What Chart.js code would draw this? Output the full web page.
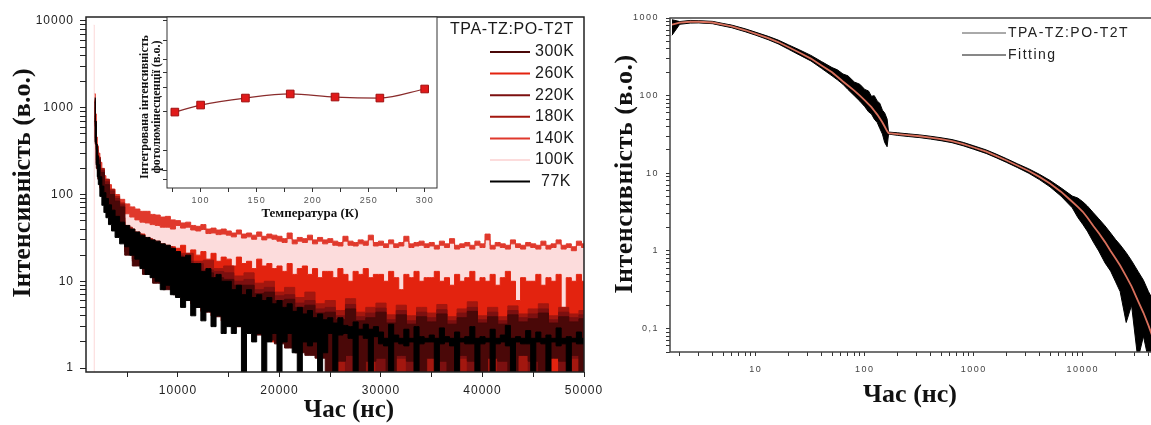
<!DOCTYPE html>
<html><head><meta charset="utf-8">
<script src="https://cdn.jsdelivr.net/npm/chart.js@4/dist/chart.umd.min.js"></script>
<style>
html,body{margin:0;padding:0;background:#fff;}
body{position:relative;width:1151px;height:425px;overflow:hidden;}
canvas{position:absolute;top:0;}
#cL{left:0}#cR{left:600px}#cI{left:120px}
</style></head><body>
<canvas id="cL" width="615" height="425"></canvas>
<canvas id="cR" width="575" height="425"></canvas>
<canvas id="cI" width="330" height="230"></canvas>
<script>
// ---------- LEFT PANEL DATA (time, ns) ----------
const tF = [
1700,1800,1900,2000,2100,2200,2400,2600,2800,3000,3300,3600,4000,4500,
5000,5500,6000,6500,7000,7500,8000,8500,9000,9500,
10000,10500,11000,11500,12000,12500,13000,13500,14000,14500,
15000,15500,16000,16500,17000,17500,18000,18500,19000,19500,
20000,20500,21000,21500,22000,22500,23000,23500,24000,24500,
25000,25500,26000,26500,27000,27500,28000,28500,29000,29500,
30000,30500,31000,31500,32000,32500,33000,33500,34000,34500,
35000,35500,36000,36500,37000,37500,38000,38500,39000,39500,
40000,40500,41000,41500,42000,42500,43000,43500,44000,44500,
45000,45500,46000,46500,47000,47500,48000,48500,49000,49500,
50000];
const tC = [
1700,1800,1900,2000,2200,2500,3000,3500,4000,4500,
5000,6000,7000,8000,9000,10000,11000,12000,13000,14000,
15000,16000,17000,18000,19000,20000,21000,22000,23000,24000,
25000,26000,27000,28000,29000,30000,31000,32000,33000,34000,
35000,36000,37000,38000,39000,40000,41000,42000,43000,44000,
45000,46000,47000,48000,49000,50000];

// upper / lower edges of each noisy decay (intensity, a.u.)
const k140Hi = [null,1450,850,460,360,300,235,185,165,150,130,115,100,88,
78,72,68,64,64,59,58,55,56,51,
50,47,48,44,43,45,40,41,39,40,
38,36,39,35,36,34,37,33,35,34,
33,31,36,30,32,31,34,30,32,30,
31,29,28,33,29,28,30,29,34,28,
29,27,30,27,28,33,27,28,29,27,
28,26,29,27,31,26,27,28,26,29,
27,35,26,28,27,26,30,27,26,28,
27,26,29,26,27,30,26,27,25,29,
27];
const k140Lo = [null,1000,600,330,270,230,180,150,132,118,104,92,80,70,
60,55,51,48,47,45,44,42,42,40,
44,41,42,39,38,39.5,35.5,36,34.5,35,
34,32.5,35,31.5,32.5,30.5,33,30,31.5,30.5,
29,28,31,27,29,28,30,27,29,27,
28,26,25.5,29,26,25.5,27,26,30,25.5,
26,24.5,27,24.5,25.5,29,24.5,25.5,26,24.5,
25.5,23.5,26,24.5,27.5,23.5,24.5,25.5,23.5,26,
24.5,30,23.5,25.5,24.5,23.5,27,24.5,23.5,25.5,
24.5,23.5,26,23.5,24.5,27,23.5,24.5,22.5,26,
24.5];
const k100Hi = [9000,1300,750,400,320,265,205,165,148,132,115,102,89,78,
66,61,57,53,52,49,48,46,46,43,
47,44,45,41.5,40.5,42,38,38.5,37,37.5,
36,34,37,33,34,32,35,31.5,33,32,
31,29.5,34,28.5,30.5,29.5,32,28.5,30.5,28.5,
29.5,27.5,26.5,31,27.5,26.5,28.5,27.5,32,26.5,
27.5,25.5,28.5,25.5,26.5,31,25.5,26.5,27.5,25.5,
26.5,24.5,27.5,25.5,29.5,24.5,25.5,26.5,24.5,27.5,
25.5,33,24.5,26.5,25.5,24.5,28.5,25.5,24.5,26.5,
25.5,24.5,27.5,24.5,25.5,28.5,24.5,25.5,23.5,27.5,
25.5];
const k100Lo = [0.8,700,400,230,180,150,115,95,82,72,60,52,44,36,
30,27,24,22,20,19,18,17,16,15,
14,13.5,13,12.5,12,11.5,11,10.5,10,10,
9.5,9.5,9,9,8.5,8.5,8,8,8,7.5,
7.5,7.5,7,7,7,7,6.5,6.5,6.5,6.5,
6.5,6,6,6,6,6,6,6,6,5.5,
5.5,5.5,5.5,5.5,5.5,5.5,5.5,5.5,5.5,5.5,
5.5,5.5,5.5,5.5,5,5,5,5,5,5,
5,5,5,5,5,5,5,5,5,5,
5,5,5,5,5,5,5,5,5,5,
5];
const k260Hi = [null,1200,700,380,290,240,180,140,120,105,88,76,64,54,
44,40,37,35,32,30,29,27,26,25,
24,26,21,23,20,22,18,21,17,19,
18,15,19,16,17,14,18,15,16,14,
15,13,16,12,14,15,12,14,11,13,
13,11,14,12,10,13,12,14,11,12,
12,10,13,11,8,12,11,13,10,11,
11,13,10,11,9,12,10,11,13,10,
11,10,12,9,11,13,10,6,11,10,
10,12,9,11,10,12,5,11,10,12,
10];
const k260Lo = [null,800,450,250,190,160,120,95,80,70,58,50,42,35,
28,24,20,17,14,12,11,10,9,8,
7,6.5,6,5.5,5,4.5,4.5,4,4,3.5,
3.5,3,3,3,2.8,2.6,2.5,2.4,2.2,2,
2,2,1.8,1.8,1.7,1.6,1.6,1.5,1.5,1.4,
1.4,1.3,1.3,1.2,1.2,1.1,1,0.8,0.8,0.8,
0.8,0.8,0.8,0.8,0.8,0.8,0.8,0.8,0.8,0.8,
0.8,0.8,0.8,0.8,0.8,0.8,0.8,0.8,0.8,0.8,
0.8,0.8,0.8,0.8,0.8,0.8,0.8,0.8,0.8,0.8,
0.8,0.8,0.8,0.8,0.8,0.8,0.8,0.8,0.8,0.8,
0.8];
const k77Hi = [null,1300,700,380,280,220,160,125,105,90,76,66,56,48,
44,40,37,34,32,30,29,27,26,24,
22,19,20,16,16,13,14,11,12,10,
10,8,9,7,8,6.5,7,6,6.5,5.5,
6,5,5.5,4.5,5,4.2,4.6,3.8,4.2,3.6,
3.8,3.3,3.8,3.1,3,3.4,2.8,3.2,2.8,3,
2.6,2.2,3.2,2.4,2.2,2.8,2.2,3,2.3,2.2,
2.4,2.2,2.9,2.3,2.2,2.6,2.2,2.3,3,2.2,
2.3,2.2,2.8,2.2,2.4,3.1,2.2,2.3,2.2,2.7,
2.2,2.6,2.2,2.4,2.2,2.9,2.2,2.3,2.2,2.6,
2.2];
const k77Lo = [null,700,400,220,160,130,95,75,62,54,45,38,32,27,
25,20,18,14,12,11,10,8,9,7,
6.5,5,6,4,5,3.5,4.5,3,4,2.5,
3,2.5,3,0.8,2.5,2,2.5,0.8,2,2.5,
0.8,2,2.5,1.5,0.8,2,1.8,2,0.8,1.5,
2.5,0.8,2.4,2.5,2.2,0.8,2.4,2.2,0.8,2.3,
1.9,1.8,0.8,2,1.9,1.8,2,0.8,1.9,2,
2,0.8,1.9,2,1.8,0.8,2,1.9,1.9,0.8,
1.9,2,0.8,1.9,2,1.8,0.8,2,1.9,1.9,
0.8,2,1.9,0.8,2,1.8,1.9,0.8,2,1.9,
1.9];
const k180Hi = [null,1250,680,370,270,200,150,115,95,80,
42,35,31,26,25,21,21,17,17.5,14,
15,11.5,12.5,9.5,10,7.5,8.5,6.5,7.5,5.5,
6,4.6,6.3,4.4,5,5.6,4.1,5.3,4,5,
4.3,5.4,3.9,4.8,5.8,4,5,3.9,5.2,4.2,
4.8,5.5,4,5,4.2,4.6];
const k180Lo = [null,800,420,230,170,130,95,75,62,54,
24,18,14,11,9,8,7,6,5,4.5,
4,3.5,3,2.8,2.5,2.3,2,1.8,1.6,1.5,
1.5,0.8,1.6,1.4,0.8,1.5,1.3,0.8,1.5,1.4,
0.8,1.5,1.3,0.8,1.6,1.4,0.8,1.5,1.3,0.8,
1.5,0.8,1.4,1.6,0.8,1.4];
const k220Hi = [null,1200,650,350,260,190,140,110,90,76,
38,33,27,25,21,20,17,16,13.5,13,
12.5,10,10.5,8,8.5,6.8,7,5.6,6,4.8,
5,4,5.4,3.9,4.3,4.9,3.6,4.6,3.5,4.4,
3.8,4.7,3.5,4.3,5,3.6,4.4,3.5,4.6,3.8,
4.2,4.8,3.6,4.4,3.8,4.1];
const k220Lo = [null,750,400,220,160,125,90,70,58,50,
22,17,13,10,8.5,7.5,6.5,5.5,4.8,4.2,
3.8,3.3,2.9,2.6,2.3,2.1,1.9,1.7,1.5,1.4,
1.3,1.5,0.8,1.3,1.5,0.8,1.4,1.3,0.8,1.5,
1.4,0.8,1.5,1.3,0.8,1.5,1.4,0.8,1.3,1.5,
0.8,1.4,1.5,0.8,1.3,1.5];
const k300Hi = [null,1150,620,330,250,180,130,100,84,72,
36,30,26,22,20,17,16,13,12.5,11,
10.5,9,9,7.2,7.5,6,6.2,5,5.3,4.3,
4.4,3.6,4.8,3.5,3.8,4.4,3.3,4.1,3.2,3.9,
3.4,4.2,3.2,3.8,4.5,3.3,3.9,3.2,4.1,3.4,
3.7,4.3,3.3,3.9,3.4,3.7];
const k300Lo = [null,700,380,200,150,115,85,65,54,46,
20,15,12,9.5,8,7,6,5,4.4,3.9,
3.5,3.1,2.7,2.4,2.1,1.9,1.7,1.5,1.4,1.3,
0.8,1.2,1.4,0.8,1.2,1.3,0.8,1.4,1.2,0.8,
1.3,1.2,0.8,1.4,1.2,0.8,1.3,1.2,0.8,1.4,
1.2,0.8,1.3,1.2,1.4,0.8];

const legendLabels = ['300K','260K','220K','180K','140K','100K','77K'];
const xTicksL = [5000,10000,15000,20000,25000,30000,35000,40000,45000,50000];
const xLabelsL = [10000,20000,30000,40000,50000];
const yTicksL = [1,2,3,4,5,6,7,8,9,10,20,30,40,50,60,70,80,90,100,200,300,400,500,600,700,800,900,1000,2000,3000,4000,5000,6000,7000,8000,9000,10000];
const yLabelsL = [1,10,100,1000,10000];

// ---------- INSET DATA ----------
const insetT = [77,100,140,180,220,260,300];
const insetVals = [4.44,4.85,5.26,5.50,5.32,5.26,5.79];
const insetXTicks = [75,100,125,150,175,200,225,250,275,300];
const insetXLabels = [100,150,200,250,300];
const insetYTicks = [0.47,1.05,2.22,4.5,5.85,6.78,7.54,8.65,9.82];

// ---------- RIGHT PANEL DATA ----------
const rT = [1.7,2,2.5,3,4,5,6,8,10,13,16,20,25,32,40,50,56,63,70,80,90,100,108,115,122,130,137,145,152,160,
165,200,250,320,400,500,630,800,1000,1300,1600,2000,2500,3200,4000,5000,6300,8000,9000,10000,11000,12500,14000,16000,
18000,20000,22000,25000,28000,32000,36000,40000,45000,50000];
const fitVals = [820,870,895,895,875,820,780,695,625,550,490,420,360,300,245,200,175,152,135,116,100,87,78,71,64,57,51,45,40,35,
33,32,31,30,28.8,27.5,26,23.8,21.5,19,16.8,14.6,12.6,10.7,9,7.4,5.8,4.3,3.7,3.2,2.7,2.1,1.7,1.3,
1.0,0.8,0.65,0.47,0.35,0.23,0.16,0.11,0.07,0.045];
const expHi = [950,900,930,925,905,850,810,725,655,580,520,450,390,330,275,230,215,190,180,150,140,120,115,98,100,85,80,65,60,50,
34,33.2,32.2,31.2,30,28.7,27.2,25,22.6,20,17.7,15.4,13.3,11.4,9.7,8.1,6.5,5.1,4.8,4.3,3.8,3.1,2.6,2.1,
1.7,1.4,1.2,0.95,0.75,0.55,0.42,0.3,0.22,0.15];
const expLo = [600,830,860,865,845,790,750,665,600,525,465,395,335,280,225,180,160,140,120,100,85,72,62,58,50,45,38,32,25,22,
32,30.8,29.8,28.8,27.6,26.3,24.8,22.6,20.4,18,15.9,13.8,11.9,10,8.3,6.7,5.1,3.6,2.7,2.2,1.8,1.3,1.0,0.7,
0.55,0.4,0.3,0.12,0.2,0.04,0.08,0.04,0.04,0.04];
const yTicksR = [0.05,0.06,0.07,0.08,0.09,0.1,0.2,0.3,0.4,0.5,0.6,0.7,0.8,0.9,1,2,3,4,5,6,7,8,9,10,20,30,40,50,60,70,80,90,100,200,300,400,500,600,700,800,900,1000];
const yLabelsR = {0.1:'0,1',1:'1',10:'10',100:'100',1000:'1000'};
const xTicksR = [2,3,4,5,6,7,8,9,10,20,30,40,50,60,70,80,90,100,200,300,400,500,600,700,800,900,1000,2000,3000,4000,5000,6000,7000,8000,9000,10000,20000,30000,40000,50000];
const xLabelsR = [10,100,1000,10000];

// ---------- STYLES ----------
const seriesColor = {'300K':'#4a0808','260K':'#e3230f','220K':'#7c1010','180K':'#a3170f','140K':'#e0392c','100K':'#fcdcdc','77K':'#000000'};
const SERIF = '"Liberation Serif","Times New Roman",serif';
const SANS = '"Liberation Sans",Arial,sans-serif';
Chart.defaults.font.family = SANS;
Chart.defaults.animation = false;

function pts(ts, vs){ return ts.map((t,i)=>({x:t, y:vs[i]})); }

function framePlugin(color, width, fill, spacing){
  return { id:'frame',
    beforeDraw(chart){ const {ctx, chartArea:a} = chart;
      if (fill){ ctx.save(); ctx.fillStyle = fill; ctx.fillRect(a.left,a.top,a.right-a.left,a.bottom-a.top); ctx.restore(); }
      ctx.letterSpacing = spacing; },
    afterDraw(chart){ const {ctx, chartArea:a} = chart;
      ctx.save(); ctx.strokeStyle = color; ctx.lineWidth = width;
      ctx.strokeRect(a.left,a.top,a.right-a.left,a.bottom-a.top); ctx.restore(); }
  };
}
function textPlugin(items, lines){
  return { id:'texts',
    afterDraw(chart){ const ctx = chart.ctx;
      (lines||[]).forEach(l => { ctx.save(); ctx.strokeStyle = l.color; ctx.lineWidth = l.w;
        ctx.beginPath(); ctx.moveTo(l.x1,l.y); ctx.lineTo(l.x2,l.y); ctx.stroke(); ctx.restore(); });
      items.forEach(it => { ctx.save(); ctx.font = it.font; ctx.fillStyle = it.color || '#000';
        ctx.letterSpacing = it.spacing || '0px';
        ctx.textAlign = it.align || 'left'; ctx.textBaseline = it.baseline || 'alphabetic';
        ctx.translate(it.x, it.y); if (it.rot) ctx.rotate(it.rot);
        ctx.fillText(it.text, 0, 0); ctx.restore(); });
    }
  };
}

// ---------- LEFT CHART ----------
const bands = [
  {label:'77K',  t:tF, hi:k77Hi,  lo:k77Lo},
  {label:'300K', t:tC, hi:k300Hi, lo:k300Lo},
  {label:'220K', t:tC, hi:k220Hi, lo:k220Lo},
  {label:'180K', t:tC, hi:k180Hi, lo:k180Lo},
  {label:'260K', t:tF, hi:k260Hi, lo:k260Lo},
  {label:'140K', t:tF, hi:k140Hi, lo:k140Lo},
  {label:'100K', t:tF, hi:k100Hi, lo:k100Lo}
];
const dsL = [];
bands.forEach(b => {
  const c = seriesColor[b.label];
  dsL.push({label:b.label, data:pts(b.t,b.hi), borderColor:c, backgroundColor:c, borderWidth:1, pointRadius:0, fill:'+1', stepped:'middle'});
  dsL.push({label:b.label+' low', data:pts(b.t,b.lo), borderColor:c, borderWidth:1, pointRadius:0, fill:false, stepped:'middle'});
});

const legendItemsL = [{text:'TPA-TZ:PO-T2T', x:450, y:30, font:'16px '+SANS, color:'#1a1a1a', baseline:'middle', spacing:'0.6px'}];
const legendLinesL = [];
legendLabels.forEach((lab,i) => {
  const y = 52 + i*21.6;
  legendLinesL.push({x1:490, x2:530, y:y, color:seriesColor[lab], w:2});
  legendItemsL.push({text:lab, x:lab==='77K'?541:535, y:y, font:'16px '+SANS, color:'#1a1a1a', baseline:'middle', spacing:'0.5px'});
});
const textsL = legendItemsL.concat([
  {text:'Інтенсивність (в.о.)', x:30, y:183, rot:-Math.PI/2, align:'center', font:'bold 26px '+SERIF, color:'#111'},
  {text:'Час (нс)', x:349, y:417, align:'center', font:'bold 25px '+SERIF, color:'#111'}
]);

new Chart(document.getElementById('cL'), {
  type:'line',
  data:{datasets:dsL},
  options:{
    responsive:false, devicePixelRatio:1, events:[],
    layout:{padding:{top:17,right:31,left:0,bottom:0}},
    plugins:{legend:{display:false}, tooltip:{enabled:false}},
    scales:{
      x:{type:'linear', min:936, max:50000,
        afterBuildTicks:s=>{ s.ticks = xTicksL.map(v=>({value:v})); },
        afterFit:s=>{ s.height = 53; },
        ticks:{autoSkip:false, maxRotation:0, padding:6, color:'#222', font:{size:12},
          callback:v => xLabelsL.includes(v) ? String(v) : ''},
        grid:{drawOnChartArea:false, drawTicks:true, tickLength:5, tickColor:'#222'},
        border:{display:false}},
      y:{type:'logarithmic', min:0.9, max:11120,
        afterBuildTicks:s=>{ s.ticks = yTicksL.map(v=>({value:v})); },
        afterFit:s=>{ s.width = 86; },
        ticks:{autoSkip:false, padding:6, color:'#222', font:{size:12},
          callback:v => yLabelsL.includes(v) ? String(v) : ''},
        grid:{drawOnChartArea:false, drawTicks:true, tickLength:6, tickColor:'#222'},
        border:{display:false}}
    }
  },
  plugins:[framePlugin('#222',1.5,null,'1px'), textPlugin(textsL, legendLinesL)]
});

// ---------- INSET CHART ----------
new Chart(document.getElementById('cI'), {
  type:'line',
  data:{datasets:[{label:'Integrated', data:pts(insetT,insetVals), borderColor:'#8a2c2c', borderWidth:1.2,
    cubicInterpolationMode:'monotone', pointStyle:'rect', pointRadius:5.4, pointBackgroundColor:'#e01a1a',
    pointBorderColor:'#a01010', pointBorderWidth:1, fill:false}]},
  options:{
    responsive:false, devicePixelRatio:1, events:[],
    layout:{padding:{top:17,right:13,left:0,bottom:0}},
    plugins:{legend:{display:false}, tooltip:{enabled:false}},
    scales:{
      x:{type:'linear', min:70, max:311,
        afterBuildTicks:s=>{ s.ticks = insetXTicks.map(v=>({value:v})); },
        afterFit:s=>{ s.height = 42; },
        ticks:{autoSkip:false, maxRotation:0, padding:3, color:'#555', font:{size:9},
          callback:v => insetXLabels.includes(v) ? String(v) : ''},
        grid:{drawOnChartArea:false, drawTicks:true, tickLength:4, tickColor:'#333'},
        border:{display:false}},
      y:{type:'linear', min:0, max:10,
        afterBuildTicks:s=>{ s.ticks = insetYTicks.map(v=>({value:v})); },
        afterFit:s=>{ s.width = 47; },
        ticks:{autoSkip:false, padding:2, callback:()=>''},
        grid:{drawOnChartArea:false, drawTicks:true, tickLength:4, tickColor:'#333'},
        border:{display:false}}
    }
  },
  plugins:[framePlugin('#333',1,'#ffffff','1px'), textPlugin([
    {text:'Температура (К)', x:190, y:217, align:'center', font:'bold 13px '+SERIF, color:'#111'},
    {text:'Інтегрована інтенсивність', x:28, y:107, rot:-Math.PI/2, align:'center', font:'bold 12px '+SERIF, color:'#111'},
    {text:'фотолюмінесценції (в.о.)', x:40, y:107, rot:-Math.PI/2, align:'center', font:'bold 12px '+SERIF, color:'#111'}
  ], [])]
});

// ---------- RIGHT CHART ----------
new Chart(document.getElementById('cR'), {
  type:'line',
  data:{datasets:[
    {label:'Fitting', data:pts(rT,fitVals), borderColor:'#d9705c', borderWidth:1.8, pointRadius:0, fill:false},
    {label:'TPA-TZ:PO-T2T', data:pts(rT,expHi), borderColor:'#000', backgroundColor:'#000', borderWidth:1, pointRadius:0, fill:'+1', borderJoinStyle:'round'},
    {label:'TPA-TZ:PO-T2T low', data:pts(rT,expLo), borderColor:'#000', borderWidth:1, pointRadius:0, fill:false, borderJoinStyle:'round'}
  ]},
  options:{
    responsive:false, devicePixelRatio:1, events:[],
    layout:{padding:{top:18,right:16,left:0,bottom:0}},
    plugins:{legend:{display:false}, tooltip:{enabled:false}},
    scales:{
      x:{type:'logarithmic', min:1.63, max:50000,
        afterBuildTicks:s=>{ s.ticks = xTicksR.map(v=>({value:v})); },
        afterFit:s=>{ s.height = 73; },
        ticks:{autoSkip:false, maxRotation:0, padding:8, color:'#444', font:{size:9},
          callback:v => xLabelsR.includes(v) ? String(v) : ''},
        grid:{drawOnChartArea:false, drawTicks:true, tickLength:4, tickColor:'#333'},
        border:{display:false}},
      y:{type:'logarithmic', min:0.05, max:1000,
        afterBuildTicks:s=>{ s.ticks = yTicksR.map(v=>({value:v})); },
        afterFit:s=>{ s.width = 70; },
        ticks:{autoSkip:false, padding:7, color:'#444', font:{size:9},
          callback:v => (yLabelsR[v] !== undefined ? yLabelsR[v] : '')},
        grid:{drawOnChartArea:false, drawTicks:true, tickLength:4, tickColor:'#333'},
        border:{display:false}}
    }
  },
  plugins:[framePlugin('#444',1.5,null,'1.5px'), textPlugin([
    {text:'Інтенсивність (в.о.)', x:32, y:174, rot:-Math.PI/2, align:'center', font:'bold 26px '+SERIF, color:'#111', spacing:'0.5px'},
    {text:'Час (нс)', x:310, y:402, align:'center', font:'bold 26px '+SERIF, color:'#111'},
    {text:'TPA-TZ:PO-T2T', x:408, y:33, font:'14px '+SANS, color:'#222', baseline:'middle', spacing:'1.5px'},
    {text:'Fitting', x:408, y:55, font:'14px '+SANS, color:'#222', baseline:'middle', spacing:'1.5px'}
  ], [
    {x1:362, x2:406, y:33, color:'#555', w:1},
    {x1:362, x2:406, y:55, color:'#111', w:1}
  ])]
});
</script>
</body></html>
